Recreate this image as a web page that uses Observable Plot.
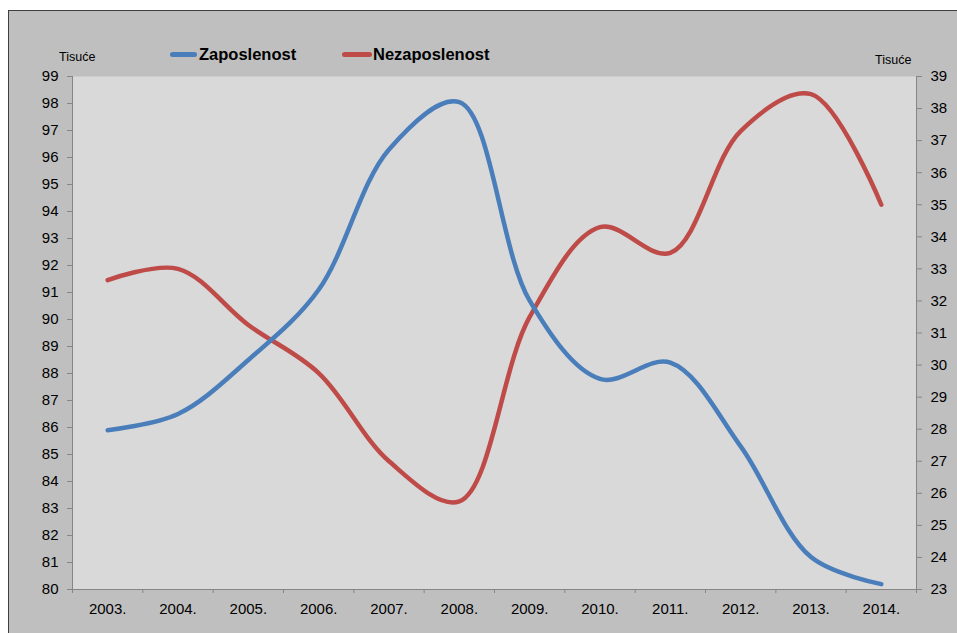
<!DOCTYPE html>
<html><head><meta charset="utf-8">
<script src="https://cdn.jsdelivr.net/npm/d3@7"></script>
<script src="https://cdn.jsdelivr.net/npm/@observablehq/plot@0.6"></script>
<style>
body{margin:0;background:#fff;font-family:"Liberation Sans",Arial,sans-serif;overflow:hidden;}
#frame{position:absolute;left:8px;top:10px;width:1000px;height:700px;background:#bfbfbf;border:1px solid #3f3f3f;}
#chart{position:absolute;left:0;top:0;}
.lab{position:absolute;font-size:12.5px;color:#000;line-height:1;}
.leg{position:absolute;font-size:16.5px;font-weight:bold;color:#000;line-height:1;}
.sw{position:absolute;height:5px;border-radius:3px;}
</style></head><body>
<div id="frame"></div>
<div id="chart"></div>
<div class="lab" style="left:59px;top:51px;">Tisuće</div>
<div class="lab" style="left:875px;top:54px;">Tisuće</div>
<div class="sw" style="left:170px;top:52px;width:27px;background:#4a7ebb;"></div>
<div class="leg" style="left:199px;top:46px;">Zaposlenost</div>
<div class="sw" style="left:342px;top:52px;width:30px;background:#be4b48;"></div>
<div class="leg" style="left:373px;top:46px;">Nezaposlenost</div>
<script>
const years = ["2003.","2004.","2005.","2006.","2007.","2008.","2009.","2010.","2011.","2012.","2013.","2014."];
const zaposlenost = [85.9, 86.5, 88.5, 91.1, 96.3, 98.05, 90.7, 87.8, 88.4, 85.3, 81.2, 80.2];
const nezaposlenost = [32.65, 33.0, 31.25, 29.75, 27.0, 25.75, 31.5, 34.3, 33.5, 37.3, 38.45, 35.0];
const leftTicks = d3.range(80, 100);
const rightTicks = d3.range(23, 40);

const toLeft = v => 80 + (v - 23) * 19 / 16;
const fromLeft = v => 23 + (v - 80) * 16 / 19;

const idx = d3.range(years.length);
const zap = idx.map(i => ({i, v: zaposlenost[i]}));
const nez = idx.map(i => ({i, v: toLeft(nezaposlenost[i])}));

const chart = Plot.plot({
  width: 957, height: 633,
  marginLeft: 72, marginRight: 41, marginTop: 76, marginBottom: 44,
  style: {fontFamily: "Liberation Sans, Arial, sans-serif", fontSize: "15px", background: "transparent", color: "#000"},
  x: {type: "linear", domain: [-0.5, 11.5], axis: null},
  y: {domain: [80, 99], axis: null},
  marks: [
    Plot.frame({fill: "#d9d9d9", stroke: null}),
    Plot.ruleY([80], {stroke: "#868686"}),
    Plot.ruleX([-0.5, 11.5], {stroke: "#868686"}),
    Plot.axisY(leftTicks, {anchor: "left", tickSize: 5, tickPadding: 9, stroke: "#868686", fill: "#000", label: null, tickFormat: d => String(d)}),
    Plot.axisY(rightTicks.map(toLeft), {anchor: "right", tickSize: 5, tickPadding: 9, stroke: "#868686", fill: "#000", label: null, tickFormat: d => String(Math.round(fromLeft(d)))}),
    Plot.axisX(d3.range(-0.5, 12, 1), {anchor: "bottom", tickSize: 4, stroke: "#868686", tickFormat: () => "", label: null}),
    Plot.axisX(idx, {anchor: "bottom", tickSize: 0, tickPadding: 14, fill: "#000", tickFormat: i => years[i], label: null}),
    Plot.line(nez, {x: "i", y: "v", stroke: "#be4b48", strokeWidth: 4.5, curve: "catmull-rom", strokeLinecap: "round", strokeLinejoin: "round"}),
    Plot.line(zap, {x: "i", y: "v", stroke: "#4a7ebb", strokeWidth: 4.5, curve: "catmull-rom", strokeLinecap: "round", strokeLinejoin: "round"})
  ]
});
document.getElementById("chart").appendChild(chart);
</script>
</body></html>
